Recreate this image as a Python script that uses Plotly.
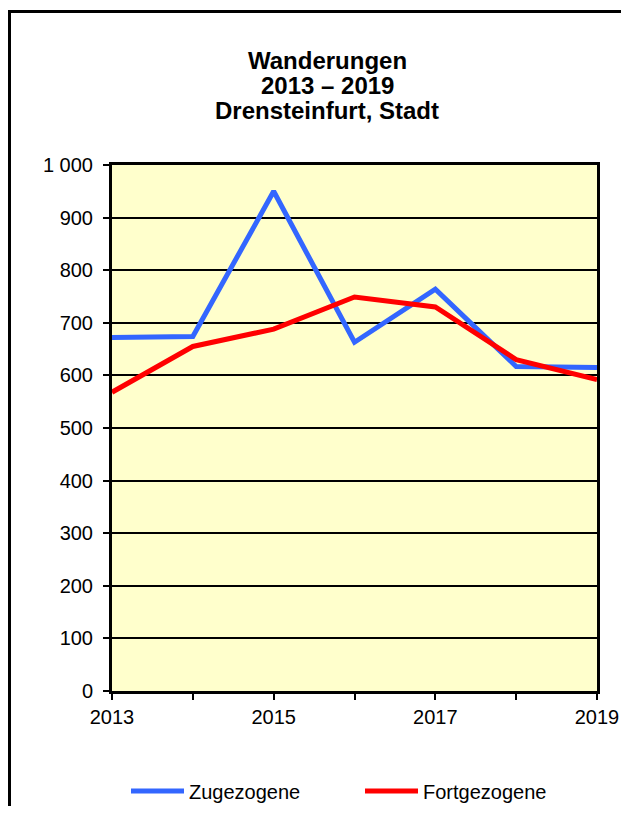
import plotly.graph_objects as go

years = [2013, 2014, 2015, 2016, 2017, 2018, 2019]
zugezogene = [672, 674, 950, 663, 764, 617, 615]
fortgezogene = [568, 655, 688, 749, 730, 630, 592]

title_lines = ["Wanderungen", "2013 – 2019", "Drensteinfurt, Stadt"]

OFF = 8  # default page body margin
W, H = 629 - OFF, 814 - 2 * OFF
# plot-area edges in page pixels
L, R, T, B = 112, 597, 165, 691
pw, ph = R - L, B - T

def px_to_paper_x(x):
    return (x - L) / pw

def px_to_paper_y(y):
    return (B - y) / ph

font_family = "Liberation Sans, Arial, sans-serif"

fig = go.Figure()
fig.add_trace(go.Scatter(x=years, y=zugezogene, mode="lines", name="Zugezogene",
                         line=dict(color="#3366FF", width=5)))
fig.add_trace(go.Scatter(x=years, y=fortgezogene, mode="lines", name="Fortgezogene",
                         line=dict(color="#FF0000", width=5)))

fig.update_layout(
    width=W, height=H,
    margin=dict(l=L - OFF, r=W - (R - OFF), t=T - OFF, b=H - (B - OFF), pad=0,
                autoexpand=False),
    paper_bgcolor="white",
    plot_bgcolor="#FFFFCC",
    font=dict(family=font_family, size=20, color="black"),
    separators=", ",
    showlegend=True,
    legend=dict(orientation="h", xanchor="left", yanchor="middle",
                x=px_to_paper_x(126), y=px_to_paper_y(791),
                entrywidth=166, entrywidthmode="pixels",
                itemwidth=53,
                font=dict(size=20, family=font_family),
                bgcolor="rgba(0,0,0,0)"),
)

fig.update_xaxes(
    range=[2013, 2019], tickmode="linear", tick0=2013, dtick=2,
    showgrid=False, zeroline=False,
    showline=True, linecolor="black", linewidth=3, mirror=True,
    ticks="outside", ticklen=6, tickwidth=2, tickcolor="black",
    minor=dict(dtick=1, ticks="outside", ticklen=6, tickwidth=2, tickcolor="black", showgrid=False),
    tickfont=dict(size=20), ticklabelstandoff=0,
)
fig.update_yaxes(
    range=[0, 1000], tickmode="linear", tick0=0, dtick=100, tickformat=",d",
    showgrid=True, gridcolor="black", gridwidth=2, zeroline=False,
    showline=True, linecolor="black", linewidth=3, mirror=True,
    ticks="outside", ticklen=6, tickwidth=2, tickcolor="black",
    tickfont=dict(size=20), ticklabelstandoff=6,
)

# outer chart frame: only the top and left edges fall inside the picture
frame = dict(color="black", width=3)
fig.add_shape(type="line", xref="paper", yref="paper",
              x0=px_to_paper_x(8), x1=px_to_paper_x(700),
              y0=px_to_paper_y(11.5), y1=px_to_paper_y(11.5),
              line=frame, layer="above")
fig.add_shape(type="line", xref="paper", yref="paper",
              x0=px_to_paper_x(9.5), x1=px_to_paper_x(9.5),
              y0=px_to_paper_y(10), y1=px_to_paper_y(900),
              line=frame, layer="above")

for i, t in enumerate(title_lines):
    fig.add_annotation(xref="paper", yref="paper",
                       x=px_to_paper_x(327), y=px_to_paper_y(60 + 25 * i),
                       text="<b>%s</b>" % t,
                       showarrow=False, xanchor="center", yanchor="middle",
                       font=dict(size=24, family=font_family, color="black"))

fig.write_html("out.html")
